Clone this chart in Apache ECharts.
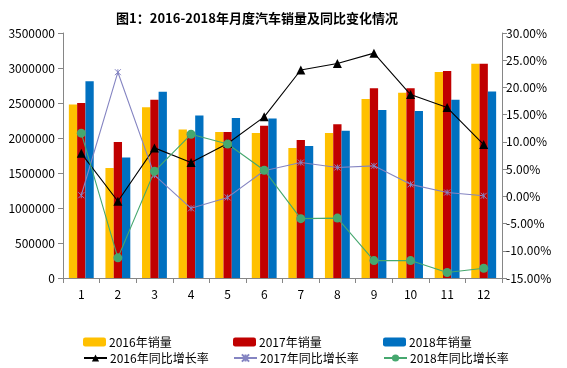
<!DOCTYPE html>
<html><head><meta charset="utf-8">
<script src="https://cdn.jsdelivr.net/npm/echarts@6/dist/echarts.min.js"></script>
<style>html,body{margin:0;padding:0;background:#fff}#c{width:567px;height:368px}</style>
</head><body><div id="c"></div>
<script>
var months = ['1','2','3','4','5','6','7','8','9','10','11','12'];
var sales2016 = [2480000,1570000,2440000,2120000,2086000,2071000,1857000,2071000,2557000,2647000,2943000,3060000];
var sales2017 = [2500000,1943000,2547000,2085000,2086000,2176000,1971000,2195000,2710000,2710000,2957000,3060000];
var sales2018 = [2810000,1720000,2660000,2320000,2285000,2280000,1886000,2105000,2400000,2386000,2547000,2665000];
var yoy2016 = [7.9,-0.9,8.9,6.2,9.7,14.6,23.2,24.4,26.3,18.7,16.3,9.5];
var yoy2017 = [0.2,22.8,3.9,-2.2,-0.2,4.7,6.2,5.3,5.6,2.2,0.7,0.1];
var yoy2018 = [11.6,-11.3,4.6,11.4,9.6,4.8,-4.1,-4.0,-11.8,-11.8,-14.0,-13.2];
var leftTicks = [0,500000,1000000,1500000,2000000,2500000,3000000,3500000];
var rightTicks = [-15,-10,-5,0,5,10,15,20,25,30];

var FONT = "SimSun, 'Noto Sans CJK SC', sans-serif";
var axisLineStyle = {lineStyle:{color:'#868686', width:1}};
var star = 'path://M0,0L10,10M10,0L0,10M5,0L5,10';

function legend(name, left, top){
  return {data:[name], left:left, top:top, itemWidth:23, itemHeight:9, itemGap:0,
    textStyle:{fontFamily:FONT, fontSize:12, color:'#000', padding:[0,0,0,-2]}, padding:0};
}

var chart = echarts.init(document.getElementById('c'), null, {renderer:'canvas'});
chart.setOption({
  animation:false,
  title:{text:'图1：2016-2018年月度汽车销量及同比变化情况', left:252, textAlign:'center', top:7,
    textStyle:{fontFamily:FONT, fontSize:13, fontWeight:'bold', color:'#000'}},
  grid:{left:63, right:65, top:33, bottom:90, containLabel:false},
  legend:[
    legend('2016年销量',83,336), legend('2017年销量',233,336), legend('2018年销量',383,336),
    legend('2016年同比增长率',83,352), legend('2017年同比增长率',233,352), legend('2018年同比增长率',383,352)
  ],
  xAxis:{type:'category', data:months, axisLine:axisLineStyle,
    axisTick:{show:true, alignWithLabel:false, length:5, lineStyle:{color:'#868686'}},
    axisLabel:{fontFamily:FONT, fontSize:12, color:'#000', margin:10}},
  yAxis:[
    {type:'value', min:0, max:3500000, interval:500000, splitLine:{show:false},
      axisLine:Object.assign({show:true},axisLineStyle), axisTick:{show:true, length:5, lineStyle:{color:'#868686'}},
      axisLabel:{fontFamily:FONT, fontSize:12, color:'#000', margin:8,
        formatter:function(v){return leftTicks.indexOf(v)>=0?String(v):'';}}},
    {type:'value', min:-15, max:30, interval:5, splitLine:{show:false},
      axisLine:Object.assign({show:true},axisLineStyle), axisTick:{show:true, length:5, lineStyle:{color:'#868686'}},
      axisLabel:{fontFamily:FONT, fontSize:12, color:'#000', margin:4,
        formatter:function(v){return rightTicks.indexOf(v)>=0?v.toFixed(2)+'%':'';}}}
  ],
  series:[
    {name:'2016年销量', type:'bar', data:sales2016, barGap:'0%', barCategoryGap:'32%', itemStyle:{color:'#FFC000'}},
    {name:'2017年销量', type:'bar', data:sales2017, barGap:'0%', barCategoryGap:'32%', itemStyle:{color:'#C00000'}},
    {name:'2018年销量', type:'bar', data:sales2018, barGap:'0%', barCategoryGap:'32%', itemStyle:{color:'#0070C0'}},
    {name:'2016年同比增长率', type:'line', yAxisIndex:1, data:yoy2016, symbol:'triangle', symbolSize:9,
      lineStyle:{color:'#000', width:1.1}, itemStyle:{color:'#000'}},
    {name:'2017年同比增长率', type:'line', yAxisIndex:1, data:yoy2017, symbol:star, symbolSize:6,
      lineStyle:{color:'#8585C2', width:1.1}, itemStyle:{color:'#8585C2', borderColor:'#8585C2', borderWidth:1}},
    {name:'2018年同比增长率', type:'line', yAxisIndex:1, data:yoy2018, symbol:'circle', symbolSize:9,
      lineStyle:{color:'#46A86F', width:1.1}, itemStyle:{color:'#46A86F'}}
  ]
});
</script></body></html>
